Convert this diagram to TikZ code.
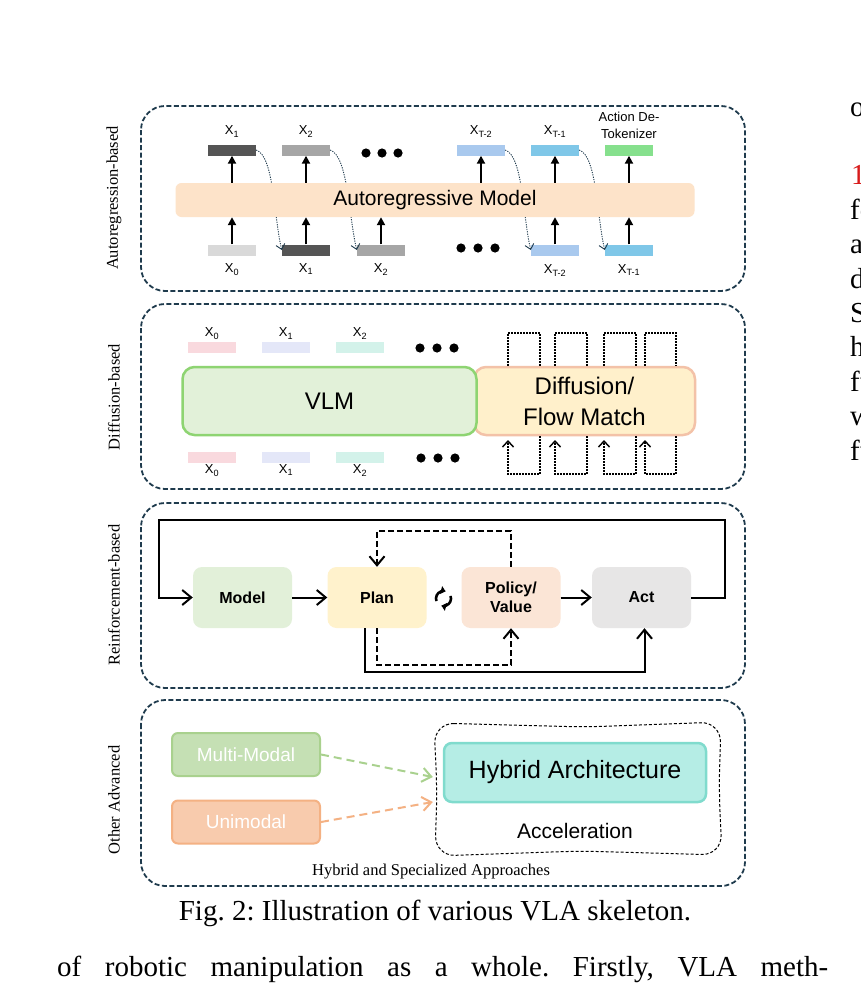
\documentclass[tikz,border=0pt]{standalone}
\usepackage{fontspec}
\setmainfont{Liberation Serif}
\setsansfont{Liberation Sans}
\usepackage{xcolor}
\usepackage{tikz}
\usetikzlibrary{arrows.meta, positioning}

\definecolor{navy}{HTML}{1F3B4D}
\definecolor{tokdark}{HTML}{555555}
\definecolor{tokmid}{HTML}{A6A6A6}
\definecolor{toklight}{HTML}{D9D9D9}
\definecolor{tokblue}{HTML}{A9C9EE}
\definecolor{toksky}{HTML}{7FC7E8}
\definecolor{tokgreen}{HTML}{86E08D}
\definecolor{peach}{HTML}{FDE3C9}
\definecolor{pinkbar}{HTML}{F9D9DE}
\definecolor{lavbar}{HTML}{E4E7F8}
\definecolor{mintbar}{HTML}{D3F2EA}
\definecolor{vlmfill}{HTML}{E2F1D9}
\definecolor{vlmline}{HTML}{8ED472}
\definecolor{difffill}{HTML}{FFF0CB}
\definecolor{diffline}{HTML}{F3C2A8}
\definecolor{modelfill}{HTML}{E2F0D9}
\definecolor{planfill}{HTML}{FFF2CC}
\definecolor{polfill}{HTML}{FBE5D6}
\definecolor{actfill}{HTML}{E7E6E6}
\definecolor{mmfill}{HTML}{C5E0B4}
\definecolor{mmline}{HTML}{A9D18E}
\definecolor{unifill}{HTML}{F8CBAD}
\definecolor{uniline}{HTML}{F4B183}
\definecolor{hybfill}{HTML}{B5EDE5}
\definecolor{hybline}{HTML}{80DBCD}
\definecolor{refred}{HTML}{D81B1B}

\begin{document}
\frenchspacing
\begin{tikzpicture}[x=1pt, y=-1pt,
        panel/.style={draw=navy, line width=1.8pt, dash pattern=on 5pt off 2.5pt,
            rounded corners=24pt},
        side/.style={rotate=90, inner sep=0pt, font=\fontsize{16.5}{18}\selectfont},
        tok/.style={minimum width=48pt, minimum height=11pt, inner sep=0pt},
        lbl/.style={inner sep=0pt, font=\sffamily\fontsize{13}{15}\selectfont},
        up/.style={-{Triangle[length=8pt, width=8pt]}, line width=2.2pt},
        curv/.style={navy, line width=0.9pt, dash pattern=on 1.2pt off 1.2pt,
            -{Straight Barb[length=5pt, width=9pt]}},
        dotln/.style={line width=1.4pt, dash pattern=on 1.5pt off 1.5pt},
        bigbox/.style={rounded corners=12pt, line width=2.5pt, minimum height=68pt,
            inner sep=0pt, align=center, font=\sffamily\fontsize{24}{31}\selectfont},
        rlbox/.style={rounded corners=9pt, minimum width=99pt, minimum height=61pt,
            inner sep=0pt, align=center, font=\sffamily\bfseries\fontsize{16}{19}\selectfont},
        rarr/.style={-{Straight Barb[length=9pt, width=15pt]}, line width=2pt},
        modbox/.style={rounded corners=6pt, line width=2pt, minimum width=148pt,
            minimum height=43pt, inner sep=0pt, text=white,
            font=\sffamily\fontsize{19}{21}\selectfont},
        darr/.style={-{Straight Barb[length=9pt, width=14pt]}, line width=2pt,
            dash pattern=on 8pt off 5pt},
        body/.style={inner sep=0pt, anchor=base west, font=\fontsize{29}{34}\selectfont}
    ]
    \fill[white] (0,0) rectangle (861,988);
    \useasboundingbox (0,0) rectangle (861,988);

    % panels and side labels
    \draw[panel] (141,106) rectangle (745,291);
    \draw[panel] (141,304) rectangle (745,489);
    \draw[panel] (141,503) rectangle (745,688);
    \draw[panel] (141,700) rectangle (745,886);
    \node[side] (s1) at (114,198) {Autoregression-based};
    \node[side] (s2) at (114,397) {Diffusion-based};
    \node[side] (s3) at (114,595) {Reinforcement-based};
    \node[side] (s4) at (114,800) {Other Advanced};

    % autoregressive panel
    \node[tok, fill=tokdark] (x1top) at (232,150) {};
    \node[tok, fill=tokmid] (x2top) at (306,150) {};
    \node[tok, fill=tokblue] (xT2top) at (481,150) {};
    \node[tok, fill=toksky] (xT1top) at (555,150) {};
    \node[tok, fill=tokgreen] (detok) at (629,150) {};
    \node[tok, fill=toklight] (x0bot) at (232,250) {};
    \node[tok, fill=tokdark] (x1bot) at (306,250) {};
    \node[tok, fill=tokmid] (x2bot) at (381,250) {};
    \node[tok, fill=tokblue] (xT2bot) at (555,250) {};
    \node[tok, fill=toksky] (xT1bot) at (629,250) {};

    \node[lbl, above=7pt of x1top] {X\textsubscript{1}};
    \node[lbl, above=7pt of x2top] {X\textsubscript{2}};
    \node[lbl, above=7pt of xT2top] {X\textsubscript{T-2}};
    \node[lbl, above=7pt of xT1top] {X\textsubscript{T-1}};
    \node[lbl, above=5pt of detok, align=center, font=\sffamily\fontsize{13}{17}\selectfont]
        {Action De-\\Tokenizer};
    \node[lbl, below=8pt of x0bot] {X\textsubscript{0}};
    \node[lbl, below=8pt of x1bot] {X\textsubscript{1}};
    \node[lbl, below=8pt of x2bot] {X\textsubscript{2}};
    \node[lbl, below=9pt of xT2bot] {X\textsubscript{T-2}};
    \node[lbl, below=9pt of xT1bot] {X\textsubscript{T-1}};

    \draw[curv] (x1top.east) .. controls +(18,6) and +(-8,-32) .. (x1bot.west);
    \draw[curv] (x2top.east) .. controls +(18,6) and +(-8,-32) .. (x2bot.west);
    \draw[curv] (xT2top.east) .. controls +(18,6) and +(-8,-32) .. (xT2bot.west);
    \draw[curv] (xT1top.east) .. controls +(18,6) and +(-8,-32) .. (xT1bot.west);

    \node[fill=peach, rounded corners=6pt, minimum width=519pt, minimum height=34pt,
        inner sep=0pt, font=\sffamily\fontsize{21}{24}\selectfont] (armodel) at (435,200)
        {Autoregressive Model};

    \foreach \n in {x1,x2,xT2,xT1}
        \draw[up] (\n top |- armodel.north) -- (\n top.south);
    \draw[up] (detok |- armodel.north) -- (detok.south);
    \foreach \n in {x0,x1,x2,xT2,xT1}
        \draw[up] (\n bot.north) -- (\n bot |- armodel.south);

    \foreach \x in {366,382,398} \fill (\x,153) circle (4.6);
    \foreach \x in {461,478,495} \fill (\x,248) circle (4.6);

    % diffusion panel
    \node[tok, fill=pinkbar] (d0top) at (212,347) {};
    \node[tok, fill=lavbar] (d1top) at (286,347) {};
    \node[tok, fill=mintbar] (d2top) at (360,347) {};
    \node[tok, fill=pinkbar] (d0bot) at (212,457) {};
    \node[tok, fill=lavbar] (d1bot) at (286,457) {};
    \node[tok, fill=mintbar] (d2bot) at (360,457) {};
    \node[lbl, above=2pt of d0top] {X\textsubscript{0}};
    \node[lbl, above=2pt of d1top] {X\textsubscript{1}};
    \node[lbl, above=2pt of d2top] {X\textsubscript{2}};
    \node[lbl, below=2pt of d0bot] {X\textsubscript{0}};
    \node[lbl, below=2pt of d1bot] {X\textsubscript{1}};
    \node[lbl, below=2pt of d2bot] {X\textsubscript{2}};
    \foreach \x in {420,437,454} \fill (\x,348) circle (4.6);
    \foreach \x in {421,438,455} \fill (\x,458) circle (4.6);

    \node[bigbox, fill=difffill, draw=diffline, minimum width=221pt] (diff) at (584.5,401)
        {Diffusion/\\Flow Match};
    \node[bigbox, fill=vlmfill, draw=vlmline, minimum width=294pt] (vlm) at (329.5,401) {VLM};

    \foreach \xa/\xb in {508/540, 555/587, 604/636, 645/676} {
        \draw[dotln] (\xa,0 |- diff.north) -- (\xa,333) -- (\xb,333) -- (\xb,0 |- diff.north);
        \draw[dotln, -{Straight Barb[length=6pt, width=11pt]}]
            (\xb,0 |- diff.south) -- (\xb,474) -- (\xa,474) -- (\xa,440);
    }

    % reinforcement panel
    \node[rlbox, fill=modelfill] (model) at (242.5,597.5) {Model};
    \node[rlbox, fill=planfill] (plan) at (377,597.5) {Plan};
    \node[rlbox, fill=polfill] (policy) at (511,597.5) {Policy/\\Value};
    \node[rlbox, fill=actfill] (act) at (641.5,597.5) {Act};
    \coordinate (cyc) at (443.5,598.5);

    \draw[rarr] (model.east) -- (plan.west);
    \draw[rarr] (policy.east) -- (act.west);
    \draw[rarr] (act.east) -- ++(34,0) |- (159,520) |- (model.west);
    \draw[rarr, dash pattern=on 6pt off 3pt] (policy.north) -- ++(0,-36) -| (plan.north);
    \draw[rarr, dash pattern=on 6pt off 3pt] (plan.south) -- ++(0,37) -| (policy.south);
    \draw[rarr] ([xshift=-12pt]plan.south) -- ++(0,44) -| ([xshift=3pt]act.south);
    \draw[line width=2.6pt, -{Triangle[length=4.5pt, width=8pt]}]
        ([shift={(160:7.5)}]cyc) arc[start angle=160, end angle=285, radius=7.5];
    \draw[line width=2.6pt, -{Triangle[length=4.5pt, width=8pt]}]
        ([shift={(-20:7.5)}]cyc) arc[start angle=-20, end angle=105, radius=7.5];

    % other advanced panel
    \node[modbox, fill=mmfill, draw=mmline] (multi) at (246,754.5) {Multi-Modal};
    \node[modbox, fill=unifill, draw=uniline] (uni) at (246,822) {Unimodal};
    \node[minimum width=290pt, minimum height=132pt, inner sep=0pt] (region) at (578,789) {};
    \draw[line width=1pt, dash pattern=on 3pt off 2pt, rounded corners=20pt]
        (434,723) -- (585,727) -- (721,722) -- (719,790) -- (722,855) -- (580,851)
        -- (435,856) -- (437,790) -- cycle;
    \node[rounded corners=8pt, fill=hybfill, draw=hybline, line width=2.5pt,
        minimum width=262pt, minimum height=59pt, inner sep=0pt,
        font=\sffamily\fontsize{25}{28}\selectfont] (hybrid) at (575,772.5) {Hybrid Architecture};
    \node[inner sep=0pt, font=\sffamily\fontsize{21}{24}\selectfont] (accel) at (575,831)
        {Acceleration};
    \draw[darr, mmline] (multi.east) -- ([yshift=12pt]region.west);
    \draw[darr, uniline] (uni.east) -- ([yshift=-13pt]region.west);
    \node[inner sep=0pt, font=\fontsize{16.5}{18}\selectfont] (hsa) at (431,872)
        {Hybrid and Specialized Approaches};

    % caption and page text
    \node[inner sep=0pt, font=\fontsize{29}{34}\selectfont] (cap) at (435,913)
        {Fig. 2: Illustration of various VLA skeleton.};
    \node[inner sep=0pt, anchor=base west, font=\fontsize{29}{34}\selectfont] (line) at (57,976)
        {\makebox[771pt][s]{of robotic manipulation as a whole. Firstly, VLA meth-}};
    \foreach \t/\k in {o/0, fo/3, a/4, d/5, S/6, h/7, fu/8, w/9, fu/10}
        \node[body] at (850,{116+34.4*\k}) {\t};
    \node[body, text=refred] at (851,{116+34.4*2}) {1};
\end{tikzpicture}
\end{document}
